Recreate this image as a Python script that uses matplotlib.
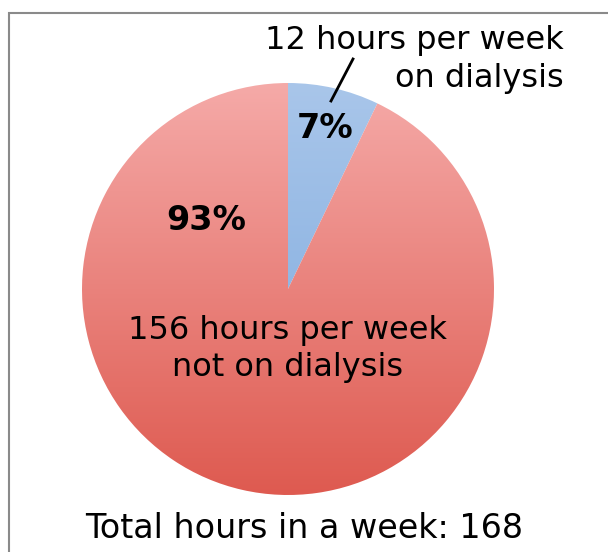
import numpy as np
import matplotlib.pyplot as plt
from matplotlib.colors import LinearSegmentedColormap
from matplotlib.patches import Rectangle

hours = [12, 156]
shares = ["7%", "93%"]
labels = ["12 hours per week\non dialysis", "156 hours per week\nnot on dialysis"]
total_label = "Total hours in a week: 168"

# gradients top -> bottom for each slice
grads = [["#a9c6ea", "#78a6dc"], ["#f5aaa8", "#de5a50"]]

W, H = 608, 552
cx, cy, r = 288, H - 289, 206

fig = plt.figure(figsize=(W / 100, H / 100), dpi=100)
ax = fig.add_axes([0, 0, 1, 1])

ax.add_patch(Rectangle((9, -10), W, H - 13 + 10, fill=False, edgecolor="#8a8a8a", lw=1.5))

wedges, _ = ax.pie(hours, startangle=90, counterclock=False, center=(cx, cy),
                   radius=r, frame=True, wedgeprops=dict(lw=0))
ax.set_xlim(0, W)
ax.set_ylim(0, H)
ax.set_aspect("auto")
ax.axis("off")

grad = np.linspace(0, 1, 256).reshape(-1, 1)
for w, g in zip(wedges, grads):
    w.set_facecolor("none")
    cmap = LinearSegmentedColormap.from_list("g", g)
    im = ax.imshow(grad, cmap=cmap, extent=(cx - r, cx + r, cy - r, cy + r),
                   origin="upper", aspect="auto", zorder=1)
    im.set_clip_path(w)

fs = 23
top1, top2 = labels[0].split("\n")
ax.text(564, H - 41, top1, ha="right", va="center", fontsize=fs)
ax.text(564, H - 78, top2, ha="right", va="center", fontsize=fs)
ax.plot([353, 331], [H - 59, H - 101], color="black", lw=2, zorder=3)
ax.text(325, H - 128, shares[0], ha="center", va="center", fontsize=24, fontweight="bold", zorder=3)
ax.text(206, H - 221, shares[1], ha="center", va="center", fontsize=24, fontweight="bold", zorder=3)
ax.text(288, H - 349, labels[1], ha="center", va="center", fontsize=fs, linespacing=1.25, zorder=3)
ax.text(304, H - 529, total_label, ha="center", va="center", fontsize=24)

fig.savefig("out.png", dpi=100)
